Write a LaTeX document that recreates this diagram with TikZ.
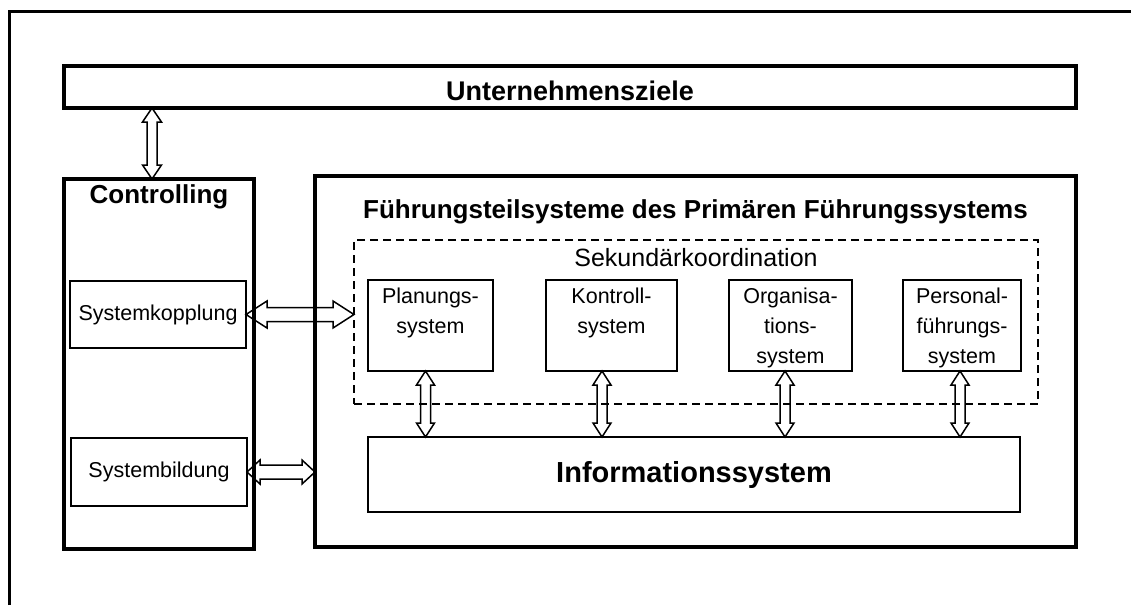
\documentclass[tikz,border=0pt]{standalone}
\usepackage{fontspec}
\setmainfont{Liberation Sans}
\usetikzlibrary{calc}
\tikzset{
  heavy/.style={draw, line width=3.5pt, inner sep=0pt, outer sep=0pt},
  light/.style={draw, line width=1.8pt, inner sep=0pt, outer sep=0pt},
  coordframe/.style={draw, line width=1.5pt, dash pattern=on 8pt off 5pt, inner sep=0pt, outer sep=0pt},
  boldtext/.style={font=\fontsize{26}{30}\bfseries\selectfont, inner sep=0pt},
  plaintext/.style={font=\fontsize{21.5}{30}\selectfont, align=center, inner sep=0pt},
  % hollow double-headed block arrow, left to right
  hlink/.style n args={3}{draw, line width=1.5pt, to path={
    let \p1=(\tikztostart), \p2=(\tikztotarget) in
    (\x1,\y1) -- ({\x1+#3},{\y1+#2}) -- ({\x1+#3},{\y1+#1}) -- ({\x2-#3},{\y1+#1})
    -- ({\x2-#3},{\y1+#2}) -- (\x2,\y1) -- ({\x2-#3},{\y1-#2}) -- ({\x2-#3},{\y1-#1})
    -- ({\x1+#3},{\y1-#1}) -- ({\x1+#3},{\y1-#2}) -- cycle}},
  % hollow double-headed block arrow, top to bottom
  vlink/.style n args={3}{draw, line width=1.5pt, to path={
    let \p1=(\tikztostart), \p2=(\tikztotarget) in
    (\x1,\y1) -- ({\x1+#2},{\y1-#3}) -- ({\x1+#1},{\y1-#3}) -- ({\x1+#1},{\y2+#3})
    -- ({\x1+#2},{\y2+#3}) -- (\x1,\y2) -- ({\x1-#2},{\y2+#3}) -- ({\x1-#1},{\y2+#3})
    -- ({\x1-#1},{\y1-#3}) -- ({\x1-#2},{\y1-#3}) -- cycle}}
}
\begin{document}
\begin{tikzpicture}[x=1pt,y=-1pt]
\useasboundingbox (0,0) rectangle (1131,605);

% page frame (top and left rule)
\coordinate (fbl) at (9,605);
\coordinate (ftl) at (9,11);
\coordinate (ftr) at (1131,11);
\draw[line width=3pt] (fbl) -- (ftl) -- (ftr);

% goals
\node[heavy, minimum width=1012pt, minimum height=42pt] (ziele) at (570,87) {};
\node[boldtext, font=\fontsize{27}{30}\bfseries\selectfont, anchor=base] (zieletxt)
  at ([yshift=-13.7pt]ziele.center) {Unternehmensziele};

% controlling column
\node[heavy, minimum width=190pt, minimum height=370pt] (ctrl) at (159,364) {};
\node[boldtext, anchor=base] (ctrltxt) at ([yshift=-24pt]ctrl.north) {Controlling};
\node[light, plaintext, minimum width=176pt, minimum height=67pt] (kopp) at (158,314.5) {Systemkopplung};
\node[light, plaintext, minimum width=176pt, minimum height=68pt] (bild) at (159,472) {Systembildung};

% primary management system
\node[heavy, minimum width=761pt, minimum height=371pt] (main) at (695.5,361.5) {};
\node[boldtext, anchor=base] (maintxt) at ([yshift=-42pt]main.north)
  {Führungsteilsysteme des Primären Führungssystems};

\node[coordframe, minimum width=684pt, minimum height=164pt] (sek) at (696,322) {};
\node[font=\fontsize{25}{30}\selectfont, inner sep=0pt, anchor=base] (sektxt)
  at ([yshift=-26pt]sek.north) {Sekundärkoordination};

\node[light, minimum width=125pt, minimum height=91pt] (plan) at (430.5,325.5) {};
\node[light, minimum width=131pt, minimum height=91pt] (kontr) at (611.5,325.5) {};
\node[light, minimum width=123pt, minimum height=91pt] (org) at (790.5,325.5) {};
\node[light, minimum width=118pt, minimum height=91pt] (pers) at (962,325.5) {};
\node[plaintext, anchor=north] (plantxt) at ([yshift=-8pt]plan.north) {Planungs-\\system};
\node[plaintext, anchor=north] (kontrtxt) at ([yshift=-8pt]kontr.north) {Kontroll-\\system};
\node[plaintext, anchor=north] (orgtxt) at ([yshift=-8pt]org.north) {Organisa-\\tions-\\system};
\node[plaintext, anchor=north] (perstxt) at ([yshift=-8pt]pers.north) {Personal-\\führungs-\\system};

\node[light, minimum width=652pt, minimum height=75pt,
      font=\fontsize{29}{32}\bfseries\selectfont] (info) at (694,474.5) {Informationssystem};

% connectors
\coordinate (zarr) at ([xshift=-7pt]ctrl.north);
\draw[vlink={5pt}{9.5pt}{14pt}] (zarr |- ziele.south) to (zarr);

\draw[hlink={7pt}{13.5pt}{21pt}] (kopp.east) to (kopp.east -| sek.west);
\draw[hlink={7pt}{12pt}{13pt}] (bild.east) to (bild.east -| main.west);

\coordinate (pa) at ([xshift=-5pt]plan.south);
\coordinate (ka) at ([xshift=-9.5pt]kontr.south);
\coordinate (oa) at ([xshift=-5.5pt]org.south);
\coordinate (qa) at ([xshift=-2pt]pers.south);
\draw[vlink={5pt}{9pt}{14pt}] (pa) to (pa |- info.north);
\draw[vlink={5pt}{9pt}{14pt}] (ka) to (ka |- info.north);
\draw[vlink={5pt}{9pt}{14pt}] (oa) to (oa |- info.north);
\draw[vlink={5pt}{9pt}{14pt}] (qa) to (qa |- info.north);
\end{tikzpicture}
\end{document}
